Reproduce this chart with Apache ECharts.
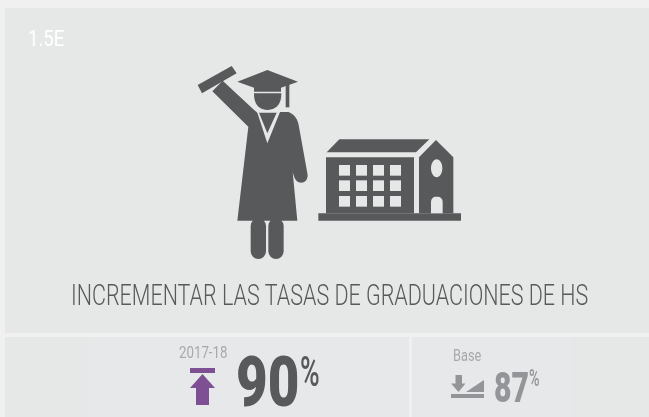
<!DOCTYPE html>
<html><head><meta charset="utf-8">
<style>html,body{margin:0;padding:0;background:#f0f0f0}#c{width:649px;height:417px}</style>
<script src="https://cdn.jsdelivr.net/npm/echarts@6/dist/echarts.min.js"></script>
</head><body><div id="c"></div><script>
const codeLabel = '1.5E';
const titleLabel = 'INCREMENTAR LAS TASAS DE GRADUACIONES DE HS';
const periodLabels = ['2017-18', 'Base'];
const percentValues = [90, 87];
const DARK = '#58595b', GREY = '#939598', PANEL = '#e6e8e7', PURPLE = '#7f4f93';

function txt(text, x, base, size, weight, color, sx) {
  return {type:'text', x, y:base-size*0.78, scaleX:sx, scaleY:1, style:{text, fontFamily:'Roboto', fontSize:size, fontWeight:weight, fill:color, align:'left', verticalAlign:'top'}};
}
function flatten(d){
  const t = d.match(/[MLQZ]|-?[\d.]+/g), pts=[]; let i=0, cmd='', cur=[0,0];
  while(i<t.length){
    if(/[MLQZ]/.test(t[i])){cmd=t[i++]; if(cmd==='Z')continue;}
    if(cmd==='Q'){
      const c=[+t[i],+t[i+1]], e=[+t[i+2],+t[i+3]]; i+=4;
      for(let k=1;k<=12;k++){const u=k/12,v=1-u;pts.push([v*v*cur[0]+2*u*v*c[0]+u*u*e[0],v*v*cur[1]+2*u*v*c[1]+u*u*e[1]]);}
      cur=e;
    } else { cur=[+t[i],+t[i+1]]; i+=2; pts.push(cur); }
  }
  return pts;
}
function poly(d, fill){ return {type:'polygon', shape:{points:flatten(d)}, style:{fill}}; }
function rect(x,y,w,h,fill,r){ return {type:'rect', shape:{x,y,width:w,height:h,r:r||0}, style:{fill}}; }

const figure = [
  poly('M53 105L155 48L170 70L66 130Z', DARK),
  poly('M97 124L128 92L220 178L232 188L262 280L300 186L325 186Q350 195 356 225L383 375Q382 398 362 398Q345 398 338 365L352 512L172 512L205 230Z', DARK),
  poly('M237 188L290 188L262 250Z', DARK),
  rect(212,505,46,122,DARK,23), rect(265,505,46,122,DARK,23),
  poly('M222 130L304 130Q304 178 262 180Q222 178 222 130Z', DARK),
  poly('M172 95L262 60L354 95L303 113L303 125L222 125L222 113Z', DARK),
  rect(317,100,11,72,DARK),
  rect(415,490,428,22,DARK),
  rect(438,322,264,168,DARK),
  poly('M440 307L478 268L748 268L708 307Z', DARK),
  poly('M717 322L768 270L820 322L820 490L717 490Z', DARK),
  {type:'ellipse', shape:{cx:770,cy:355,rx:17,ry:27}, style:{fill:PANEL}},
  poly('M753 490L753 458Q753 440 770 440Q788 440 788 458L788 490Z', PANEL)
];
[477,528,579,630].forEach(x=>[345,391,438].forEach(y=>figure.push(rect(x,y,33,32,PANEL))));

const chart = echarts.init(document.getElementById('c'), null, {renderer:'canvas'});
chart.setOption({
  backgroundColor:'#f0f0f0',
  animation:false,
  graphic:{elements:[
    rect(5,8,644,325,PANEL),
    rect(5,337,404,80,PANEL),
    rect(88,337,321,80,'#e7e8ea'),
    rect(412,337,237,80,PANEL),
    rect(412,337,160,80,'#e7e8ea'),
    txt(codeLabel,28,47,22,400,'#ffffff',0.84),
    {type:'group', x:180, y:50, scaleX:1/3, scaleY:1/3, children:figure},
    txt(titleLabel,71,306,29,300,DARK,0.741),
    txt(periodLabels[0],179,358,16,400,'#a7a9ac',0.83),
    rect(190,368,25,5,PURPLE),
    poly('M202.5 374L215 388L209 388L209 405L196 405L196 388L190 388Z',PURPLE),
    txt(String(percentValues[0]),236,408,71,900,DARK,0.77),
    txt('%',300,387,43,500,DARK,0.62),
    txt(periodLabels[1],453,361,16,400,'#a7a9ac',0.8),
    poly('M455.5 375L462 375L462 383.5L465.5 383.5L458.5 392L451 383.5L455.5 383.5Z',GREY),
    poly('M466 392L484 380L484 392Z',GREY),
    rect(451,394,33,4,GREY),
    txt(String(percentValues[1]),494,403,42,900,GREY,0.72),
    txt('%',529,387,23,500,GREY,0.62)
  ]}
});
</script></body></html>
